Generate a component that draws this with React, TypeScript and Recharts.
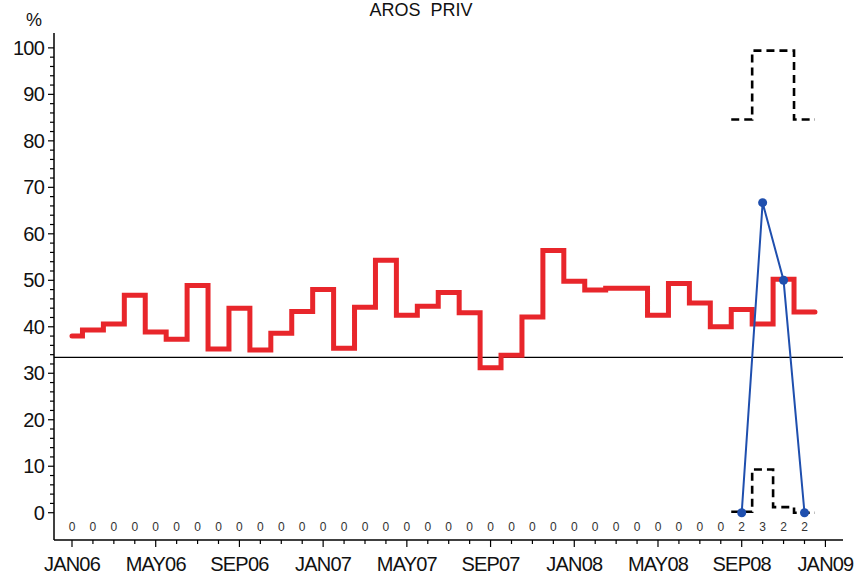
import { ComposedChart, Line, Scatter, XAxis, YAxis, ReferenceLine } from 'recharts';

// monthly percentages, JAN06 .. DEC08
const redPct = [
  38.0, 39.3, 40.6, 46.8, 38.9, 37.3, 48.9, 35.2, 44.0, 35.0, 38.6, 43.3,
  48.0, 35.4, 44.2, 54.3, 42.5, 44.4, 47.4, 43.0, 31.2, 33.9, 42.1, 56.4,
  49.8, 47.9, 48.3, 48.3, 42.5, 49.3, 45.1, 40.0, 43.7, 40.6, 50.2, 43.2,
];

// n per month (printed along the bottom)
const counts = [
  0, 0, 0, 0, 0, 0, 0, 0, 0, 0, 0, 0,
  0, 0, 0, 0, 0, 0, 0, 0, 0, 0, 0, 0,
  0, 0, 0, 0, 0, 0, 0, 0, 2, 3, 2, 2,
];

// small-sample series, SEP08 .. DEC08
const blueMonths = [32, 33, 34, 35];
const bluePct = [0, 66.7, 50, 0];
const upperCI = [84.6, 99.4, 99.4, 84.6];
const lowerCI = [0.2, 9.3, 1.2, 0];

const refLevel = 33.4;

const xTickLabels = ['JAN06', 'MAY06', 'SEP06', 'JAN07', 'MAY07', 'SEP07', 'JAN08', 'MAY08', 'SEP08', 'JAN09'];
const xTicks = Array.from({ length: 37 }, (_, i) => i);
const yTicks = Array.from({ length: 51 }, (_, i) => i * 2);

const xDomain: [number, number] = [-0.86, 36.84];
const yDomain: [number, number] = [-5.87, 103.2];

const FONT = '"Liberation Sans", Arial, Helvetica, sans-serif';

// red step: centred on each month, last month runs on half a step
const redData = redPct.map((v, i) => ({ m: i, v }));
redData.push({ m: redPct.length - 0.5, v: redPct[redPct.length - 1] });

const blueData = blueMonths.map((m, i) => ({ m, v: bluePct[i] }));

// CI steps span each month +/- half a month
const stepBand = (vals: number[]) => {
  const pts = blueMonths.map((m, i) => ({ m: m - 0.5, v: vals[i] }));
  pts.push({ m: blueMonths[blueMonths.length - 1] + 0.5, v: vals[vals.length - 1] });
  return pts;
};
const upperData = stepBand(upperCI);
const lowerData = stepBand(lowerCI);

const countData = counts.map((n, i) => ({ m: i, y: 0, n }));

const XTick = (props: any) => {
  const { x, y, payload } = props;
  const m = payload.value;
  const major = m % 4 === 0;
  return (
    <g>
      <line x1={x} x2={x} y1={y} y2={y + (major ? 7 : 4)} stroke="#000" strokeWidth={1.2} />
      {major && (
        <text x={x} y={y + 31} textAnchor="middle" fontSize={20} fontFamily={FONT} letterSpacing={-0.8} fill="#111">
          {xTickLabels[m / 4]}
        </text>
      )}
    </g>
  );
};

const YTick = (props: any) => {
  const { x, y, payload } = props;
  const v = payload.value;
  const major = v % 10 === 0;
  return (
    <g>
      <line x1={x - (major ? 6 : 4)} x2={x} y1={y} y2={y} stroke="#000" strokeWidth={1.2} />
      {major && (
        <text x={x - 10} y={y + 7} textAnchor="end" fontSize={20} fontFamily={FONT} letterSpacing={-0.8} fill="#111">
          {v}
        </text>
      )}
    </g>
  );
};

const CountLabel = (props: any) => {
  const { cx, cy, payload } = props;
  return (
    <text x={cx} y={cy + 18} textAnchor="middle" fontSize={12} fontFamily={FONT} fill="#333">
      {payload.n}
    </text>
  );
};

export default function App() {
  return (
    <div style={{ position: 'absolute', left: 0, top: 0, width: 855, height: 577, background: '#fff' }}>
      <div
        style={{
          position: 'absolute', left: 0, width: 842, top: 0, textAlign: 'center',
          fontFamily: FONT, fontSize: 18, lineHeight: '20px', whiteSpace: 'pre', color: '#111',
        }}
      >
        AROS  PRIV
      </div>
      <div
        style={{
          position: 'absolute', left: 26, top: 11, fontFamily: FONT, fontSize: 18, lineHeight: '18px', color: '#111',
        }}
      >
        %
      </div>
      <ComposedChart width={855} height={577} margin={{ top: 33, right: 12, left: 0, bottom: 0 }}>
        <XAxis
          dataKey="m"
          type="number"
          domain={xDomain}
          allowDataOverflow
          ticks={xTicks}
          interval={0}
          tick={<XTick />}
          tickLine={false}
          tickSize={0}
          tickMargin={0}
          height={37}
          axisLine={{ stroke: '#000', strokeWidth: 1.5 }}
        />
        <XAxis
          xAxisId="top"
          orientation="top"
          type="number"
          domain={xDomain}
          allowDataOverflow
          height={0}
          tick={false}
          tickLine={false}
          axisLine={{ stroke: '#000', strokeWidth: 1.5 }}
        />
        <YAxis
          type="number"
          domain={yDomain}
          allowDataOverflow
          ticks={yTicks}
          interval={0}
          tick={<YTick />}
          tickLine={false}
          tickSize={0}
          tickMargin={0}
          width={54}
          axisLine={{ stroke: '#000', strokeWidth: 1.5 }}
        />
        <YAxis
          yAxisId="right"
          orientation="right"
          type="number"
          domain={yDomain}
          allowDataOverflow
          width={0}
          tick={false}
          tickLine={false}
          axisLine={{ stroke: '#000', strokeWidth: 1.5 }}
        />
        <ReferenceLine y={refLevel} stroke="#000" strokeWidth={1.2} />
        <Line
          data={redData}
          dataKey="v"
          type="step"
          stroke="#e8262b"
          strokeWidth={5}
          strokeLinecap="round"
          dot={false}
          activeDot={false}
          isAnimationActive={false}
        />
        <Line
          data={upperData}
          dataKey="v"
          type="stepAfter"
          stroke="#000"
          strokeWidth={2.6}
          strokeDasharray="8 5"
          dot={false}
          activeDot={false}
          isAnimationActive={false}
        />
        <Line
          data={lowerData}
          dataKey="v"
          type="stepAfter"
          stroke="#000"
          strokeWidth={2.6}
          strokeDasharray="8 5"
          dot={false}
          activeDot={false}
          isAnimationActive={false}
        />
        <Line
          data={blueData}
          dataKey="v"
          type="linear"
          stroke="#1f4fae"
          strokeWidth={2}
          dot={{ r: 4.5, fill: '#1f4fae', stroke: 'none' }}
          activeDot={false}
          isAnimationActive={false}
        />
        <Scatter data={countData} dataKey="y" shape={<CountLabel />} isAnimationActive={false} />
      </ComposedChart>
    </div>
  );
}
